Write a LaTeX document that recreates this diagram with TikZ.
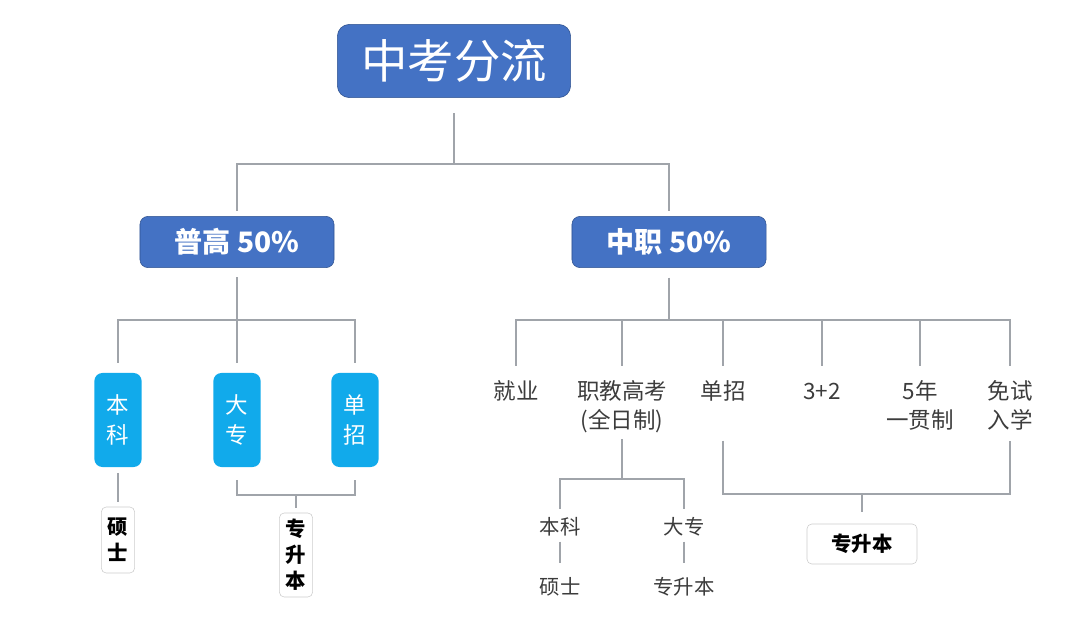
\documentclass[tikz,border=0pt]{standalone}
\usepackage{fontspec}
\setmainfont{Noto Sans CJK SC}
\usetikzlibrary{positioning}
\definecolor{rootcolor}{RGB}{68,114,196}
\definecolor{rootedge}{RGB}{47,82,143}
\definecolor{subcolor}{RGB}{17,170,235}
\definecolor{linecolor}{RGB}{160,164,170}
\definecolor{notecolor}{RGB}{205,205,205}
\definecolor{textcolor}{RGB}{60,60,60}

\begin{document}
\begin{tikzpicture}[
    x=0.025cm, y=-0.025cm,
    rootbox/.style={draw=rootedge, fill=rootcolor, text=white, rounded corners=0.3cm, minimum width=5.83cm, minimum height=1.83cm, font=\fontsize{33}{36}\selectfont},
    levelbox/.style={draw=rootedge, fill=rootcolor, text=white, rounded corners=0.2cm, minimum width=4.85cm, minimum height=1.28cm, font=\fontsize{20}{24}\selectfont\bfseries},
    subbox/.style={fill=subcolor, text=white, rounded corners=0.2cm, minimum width=1.18cm, minimum height=2.35cm, align=center, font=\fontsize{16}{21}\selectfont},
    notebox/.style={draw=notecolor, fill=white, rounded corners=0.12cm, inner sep=0pt, align=center, font=\fontsize{14.5}{18.5}\selectfont\bfseries},
    leaf/.style={text=textcolor, inner sep=0pt, align=center, anchor=north, font=\fontsize{16}{21}\selectfont},
    leafsmall/.style={text=textcolor, inner sep=0pt, font=\fontsize{14.5}{18}\selectfont},
    link/.style={draw=linecolor, line width=0.9pt}
]
    \useasboundingbox (0,0) rectangle (1080,643);

    % Top levels
    \node[rootbox] (root) at (454,61) {中考分流};
    \node[levelbox] (pugao) at (237,242) {普高 50\%};
    \node[levelbox] (zhongzhi) at (669,242) {中职 50\%};

    \coordinate (busA) at (454,164);
    \draw[link] ([yshift=-11pt]root.south) -- (busA);
    \draw[link] ([yshift=3.5pt]pugao.north) |- (busA) -| ([yshift=3.5pt]zhongzhi.north);

    % Left branch
    \node[subbox] (benke) at (118,420) {本\\科};
    \node[subbox] (dazhuan) at (237,420) {大\\专};
    \node[subbox] (danzhao) at (355,420) {单\\招};
    \node[notebox, minimum width=0.83cm, minimum height=1.65cm] (shuoshi) at (118,540) {硕\\士};
    \node[notebox, minimum width=0.83cm, minimum height=2.1cm] (shengben) at (296,555) {专\\升\\本};

    \coordinate (busB) at (237,320);
    \draw[link] ([yshift=-6.5pt]pugao.south) -- ([yshift=7pt]dazhuan.north);
    \draw[link] ([yshift=7pt]benke.north) |- (busB) -| ([yshift=7pt]danzhao.north);
    \draw[link] ([yshift=-4pt]benke.south) -- ([yshift=3.5pt]shuoshi.north);

    \coordinate (busC) at (296,495);
    \draw[link] ([yshift=-9pt]dazhuan.south) |- (busC) -| ([yshift=-9pt]danzhao.south);
    \draw[link] (busC) -- ([yshift=3.5pt]shengben.north);

    % Right branch
    \node[leaf] (jiuye) at (516,380) {就业};
    \node[leaf] (zhijiao) at (622,380) {职教高考\\(全日制)};
    \node[leaf] (danzhao2) at (723,380) {单招};
    \node[leaf] (sanjiaer) at (822,380) {\vphantom{中}3+2};
    \node[leaf] (wunian) at (920,380) {5年\\一贯制};
    \node[leaf] (mianshi) at (1010,380) {免试\\入学};

    \coordinate (busE) at (669,320);
    \draw[link] ([yshift=-7pt]zhongzhi.south) -- (busE);
    \draw[link] ([yshift=10pt]jiuye.north) |- (busE) -| ([yshift=10pt]mianshi.north);
    \foreach \n in {zhijiao, danzhao2, sanjiaer, wunian}
        \draw[link] ([yshift=10pt]\n.north) -- (\n.north |- busE);

    % Under zhijiao
    \node[leafsmall] (zjbenke) at (560,527) {本科};
    \node[leafsmall] (zjdazhuan) at (684,527) {大专};
    \node[leafsmall] (zjshuoshi) at (560,587) {硕士};
    \node[leafsmall] (zjshengben) at (684,587) {专升本};

    \coordinate (busF) at (622,479);
    \draw[link] ([yshift=-4pt]zhijiao.south) -- (busF);
    \draw[link] ([yshift=6pt]zjbenke.north) |- (busF) -| ([yshift=6pt]zjdazhuan.north);
    \draw[link] ([yshift=-3.5pt]zjbenke.south) -- ([yshift=10pt]zjshuoshi.north);
    \draw[link] ([yshift=-3.5pt]zjdazhuan.south) -- ([yshift=10pt]zjshengben.north);

    % Shared upgrade box
    \node[notebox, minimum width=2.75cm, minimum height=1.0cm] (shengben2) at (862,544) {专升本};

    \coordinate (busG) at (862,494);
    \draw[link] ([yshift=-7pt]danzhao2.south |- mianshi.south) |- (busG) -| ([yshift=-7pt]mianshi.south);
    \draw[link] (busG) -- ([yshift=8pt]shengben2.north);
\end{tikzpicture}
\end{document}
